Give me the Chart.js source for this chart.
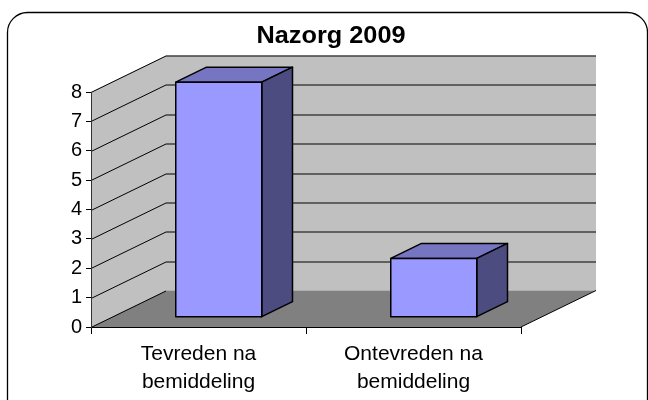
<!DOCTYPE html>
<html>
<head>
<meta charset="utf-8">
<script src="https://cdn.jsdelivr.net/npm/chart.js@4.4.0/dist/chart.umd.min.js"></script>
<style>
  body { margin: 0; background: #fff; }
  canvas { display: block; }
</style>
</head>
<body>
<canvas id="nazorg" width="648" height="400"></canvas>
<script>
const chartTitle = 'Nazorg 2009'
const categories = [['Tevreden na', 'bemiddeling'], ['Ontevreden na', 'bemiddeling']]
const counts = [8, 2]
const yMax = 8

const font = '"Liberation Sans", Arial, sans-serif'
const depth = { x: 75, y: -36.5 }   // offset of the back wall from the front plane
const barFront = 0.27, barDepth = 0.41
const colours = { wall: '#c0c0c0', floor: '#808080', front: '#9999ff', top: '#7575c2', side: '#4c4c80' }

function poly(ctx, pts, fill, stroke, lw) {
    ctx.beginPath()
    pts.forEach((p, i) => i ? ctx.lineTo(p[0], p[1]) : ctx.moveTo(p[0], p[1]))
    ctx.closePath()
    if (fill) { ctx.fillStyle = fill; ctx.fill() }
    if (stroke) { ctx.strokeStyle = stroke; ctx.lineWidth = lw || 1; ctx.stroke() }
}

const box3d = {
    id: 'box3d',
    beforeDraw(chart) {
        const ctx = chart.ctx
        const a = chart.chartArea
        const ys = chart.scales.y
        const L = a.left, R = a.right, T = a.top, B = a.bottom, dx = depth.x, dy = depth.y
        ctx.save()
        ctx.fillStyle = '#fff'
        ctx.fillRect(0, 0, chart.width, chart.height)

        // rounded frame
        ctx.beginPath()
        ctx.roundRect(7.5, 12.5, 640, 420, 20)
        ctx.lineWidth = 1.3
        ctx.strokeStyle = '#000'
        ctx.stroke()

        // title (slightly wide, like the original)
        ctx.save()
        ctx.fillStyle = '#000'
        ctx.font = 'bold 23px ' + font
        ctx.textAlign = 'center'
        ctx.textBaseline = 'alphabetic'
        ctx.translate(331, 43)
        ctx.scale(1.1, 1)
        ctx.fillText(chartTitle, 0, 0)
        ctx.restore()

        // walls + floor
        poly(ctx, [[L, B], [L, T], [L + dx, T + dy], [L + dx, B + dy]], colours.wall)
        poly(ctx, [[L + dx, T + dy], [R + dx, T + dy], [R + dx, B + dy], [L + dx, B + dy]], colours.wall)
        poly(ctx, [[L, B], [R, B], [R + dx, B + dy], [L + dx, B + dy]], colours.floor)

        // gridlines along side wall and back wall
        ctx.strokeStyle = '#000'
        ctx.lineWidth = 1
        ys.ticks.forEach(t => {
            const py = Math.round(ys.getPixelForValue(t.value)) + 0.5
            ctx.beginPath()
            ctx.moveTo(L, py)
            ctx.lineTo(L + dx, py + dy)
            if (t.value > 0) ctx.lineTo(R + dx, py + dy)
            ctx.stroke()
        })
        // right edge of floor
        ctx.beginPath()
        ctx.moveTo(R, B)
        ctx.lineTo(R + dx, B + dy)
        ctx.stroke()
        ctx.restore()
    },
    afterDatasetsDraw(chart) {
        const ctx = chart.ctx
        const meta = chart.getDatasetMeta(0)
        const dx = depth.x, dy = depth.y
        ctx.save()
        ctx.lineJoin = 'round'
        meta.data.forEach(bar => {
            const w = bar.width
            const x0 = bar.x - w / 2 + dx * barFront, x1 = x0 + w
            const top = bar.y + dy * barFront, bot = bar.base + dy * barFront
            const ox = dx * barDepth, oy = dy * barDepth
            poly(ctx, [[x0, top], [x1, top], [x1 + ox, top + oy], [x0 + ox, top + oy]], colours.top, '#000', 1.5)
            poly(ctx, [[x1, top], [x1 + ox, top + oy], [x1 + ox, bot + oy], [x1, bot]], colours.side, '#000', 1.5)
            poly(ctx, [[x0, top], [x1, top], [x1, bot], [x0, bot]], colours.front, '#000', 1.5)
        })
        ctx.restore()
    }
}

const config = {
    type: 'bar',
    data: {
        labels: categories,
        datasets: [{
            label: chartTitle,
            data: counts,
            backgroundColor: 'rgba(0,0,0,0)',
            borderWidth: 0,
            barPercentage: 0.4,
            categoryPercentage: 1
        }]
    },
    options: {
        responsive: false,
        animation: false,
        layout: { padding: { top: 92, right: 127, bottom: 0, left: 0 } },
        plugins: {
            legend: { display: false },
            tooltip: { enabled: false },
            title: { display: false }
        },
        scales: {
            x: {
                grid: { drawOnChartArea: false, tickLength: 7, color: '#000', offset: true },
                border: { color: '#000' },
                ticks: { color: '#000', padding: 7, font: { family: font, size: 21, lineHeight: 1.3 }, maxRotation: 0 },
                afterFit: s => { s.height = 73 }
            },
            y: {
                min: 0,
                max: yMax,
                grid: { drawOnChartArea: false, tickLength: 5, color: '#000' },
                border: { color: '#333' },
                ticks: { stepSize: 1, color: '#000', padding: 4, font: { family: font, size: 20 } },
                afterFit: s => { s.width = 91 }
            }
        }
    },
    plugins: [box3d]
}

new Chart(document.getElementById('nazorg'), config)
</script>
</body>
</html>
